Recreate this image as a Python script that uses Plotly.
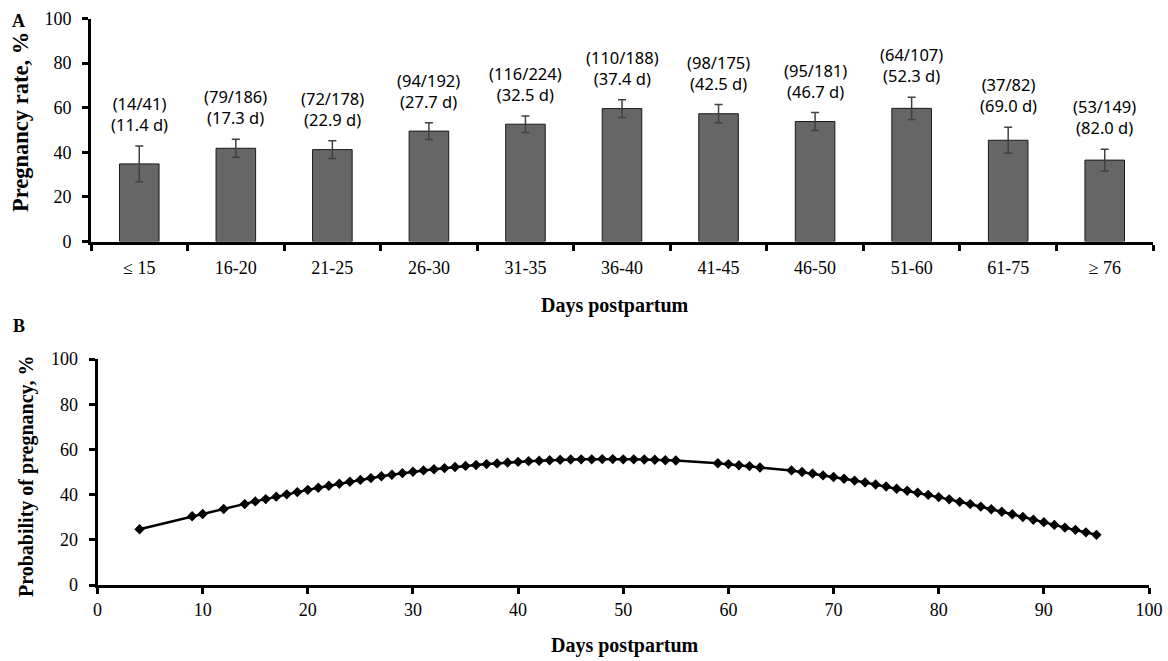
import plotly.graph_objects as go

# ---------------- Panel A data ----------------
categories = ["≤ 15", "16-20", "21-25", "26-30", "31-35", "36-40",
              "41-45", "46-50", "51-60", "61-75", "≥ 76"]
rates = [34.8, 41.8, 41.2, 49.5, 52.6, 59.6, 57.3, 53.8, 59.7, 45.4, 36.5]
errors = [8.0, 4.0, 4.0, 3.8, 3.7, 4.0, 4.1, 4.0, 5.0, 5.8, 4.9]
pregnant = [14, 79, 72, 94, 116, 110, 98, 95, 64, 37, 53]
totals = [41, 186, 178, 192, 224, 188, 175, 181, 107, 82, 149]
mean_days = ["11.4", "17.3", "22.9", "27.7", "32.5", "37.4", "42.5", "46.7", "52.3", "69.0", "82.0"]

# ---------------- Panel B data ----------------
days = [4, 9, 10, 12, 14, 15, 16, 17, 18, 19, 20, 21, 22, 23, 24, 25, 26, 27, 28, 29,
        30, 31, 32, 33, 34, 35, 36, 37, 38, 39, 40, 41, 42, 43, 44, 45, 46, 47, 48, 49,
        50, 51, 52, 53, 54, 55, 59, 60, 61, 62, 63, 66, 67, 68, 69, 70, 71, 72, 73, 74,
        75, 76, 77, 78, 79, 80, 81, 82, 83, 84, 85, 86, 87, 88, 89, 90, 91, 92, 93, 94, 95]
prob = [24.7, 30.4, 31.4, 33.6, 35.8, 37.0, 38.0, 39.1, 40.1, 41.1, 42.1, 43.0, 43.9, 44.8, 45.7, 46.5,
        47.3, 48.1, 48.8, 49.5, 50.1, 50.7, 51.2, 51.7, 52.2, 52.7, 53.1, 53.5, 53.8, 54.2, 54.5, 54.8,
        55.0, 55.2, 55.4, 55.5, 55.6, 55.6, 55.7, 55.7, 55.6, 55.6, 55.5, 55.4, 55.2, 55.1,
        53.9, 53.5, 53.0, 52.6, 52.0,
        50.7, 50.0, 49.3, 48.5, 47.8, 47.0, 46.2, 45.4, 44.5, 43.6, 42.6, 41.7, 40.8, 39.9, 38.9,
        37.9, 36.8, 35.8, 34.7, 33.5, 32.4, 31.3, 30.1, 28.9, 27.8, 26.6, 25.4, 24.4, 23.3, 22.2]

W, H = 1168, 661
SERIF = "Liberation Serif"
SANS = "Noto Sans"

fig = go.Figure()

fig.add_trace(go.Bar(
    x=categories, y=rates, width=0.41,
    marker=dict(color="#666666", line=dict(color="#1a1a1a", width=1)),
    error_y=dict(type="data", array=errors, color="#404040", thickness=1.5, width=4),
    xaxis="x", yaxis="y", hoverinfo="skip",
))

fig.add_trace(go.Scatter(
    x=days, y=prob, mode="lines+markers",
    line=dict(color="black", width=2.5),
    marker=dict(symbol="diamond", size=8, color="black"),
    xaxis="x2", yaxis="y2",
))

def px_x(p):
    return p / W

def px_y(p):
    return 1 - p / H

axis_common = dict(
    showline=True, linecolor="black", linewidth=3, mirror=False,
    ticks="outside", ticklen=6, tickwidth=2.5, tickcolor="black",
    showgrid=False, zeroline=False, automargin=False,
    tickfont=dict(family=SERIF, size=18, color="black"),
)

annotations = []
for i, c in enumerate(categories):
    annotations.append(dict(
        x=c, y=rates[i] + errors[i], xref="x", yref="y",
        text=f"({pregnant[i]}/{totals[i]})<br>({mean_days[i]} d)",
        showarrow=False, xanchor="center", yanchor="bottom", yshift=8,
        font=dict(family=SANS, size=16.5, color="black"),
    ))

title_font = dict(family=SERIF, size=20, color="black")

def paper_text(text, x, y, font, angle=0):
    return dict(text=text, x=px_x(x), y=px_y(y), xref="paper", yref="paper",
                xanchor="center", yanchor="middle", textangle=angle,
                showarrow=False, font=font)

annotations += [
    paper_text("<b>A</b>", 18.5, 21, dict(family=SERIF, size=18, color="black")),
    paper_text("<b>B</b>", 19, 326, dict(family=SERIF, size=18, color="black")),
    paper_text("<b>Pregnancy rate, %</b>", 20, 122, dict(family=SERIF, size=22.5, color="black"), -90),
    paper_text("<b>Days postpartum</b>", 615, 305, title_font),
    paper_text("<b>Probability of pregnancy, %</b>", 26, 476, title_font, -90),
    paper_text("<b>Days postpartum</b>", 625, 645, title_font),
]

fig.update_layout(
    width=W, height=H,
    margin=dict(l=0, r=0, t=0, b=0),
    paper_bgcolor="white", plot_bgcolor="white",
    showlegend=False,
    xaxis=dict(domain=[px_x(91), px_x(1153)], anchor="y", type="category",
               range=[-0.5, 10.5], tickson="boundaries", ticklabelstandoff=8, **axis_common),
    yaxis=dict(domain=[px_y(241.5), px_y(18.5)], anchor="x", range=[0, 100], dtick=20,
               ticklabelstandoff=7, **axis_common),
    xaxis2=dict(domain=[px_x(97.5), px_x(1149)], anchor="y2", range=[0, 100], dtick=10,
                **axis_common),
    yaxis2=dict(domain=[px_y(585), px_y(359)], anchor="x2", range=[0, 100], dtick=20,
                ticklabelstandoff=7, **axis_common),
    annotations=annotations,
)

fig.write_html("out.html", config={"displayModeBar": False},
               post_script="document.body.style.margin='0';")
